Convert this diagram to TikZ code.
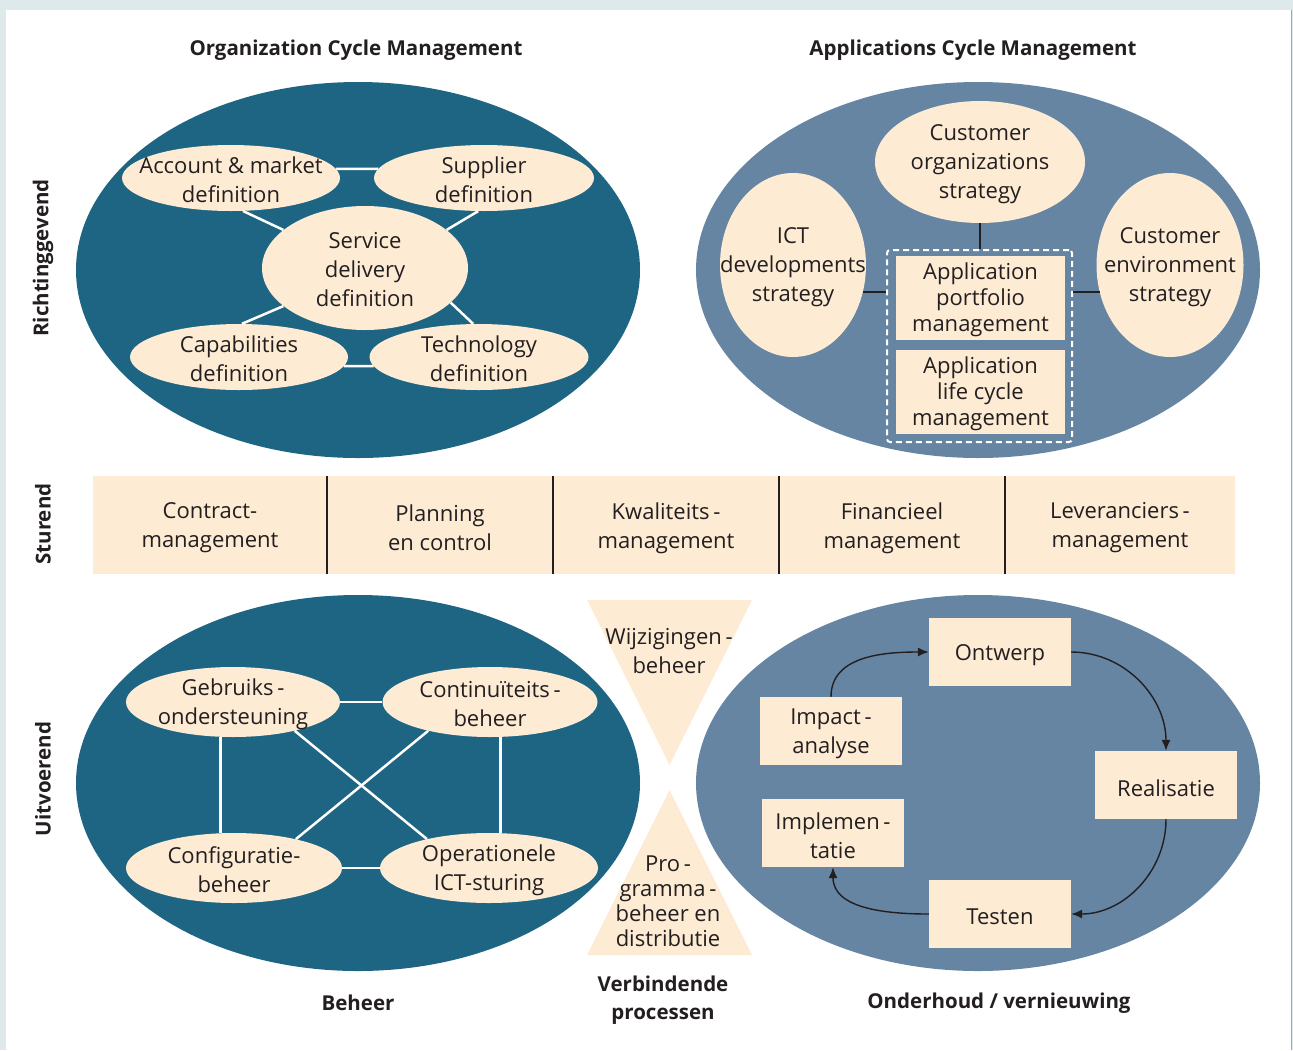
\documentclass[tikz,border=0pt]{standalone}
\usepackage{fontspec}
\setmainfont{Open Sans}
\usetikzlibrary{shapes.geometric,arrows.meta}

\definecolor{darkteal}{RGB}{30,101,132}
\definecolor{slateblue}{RGB}{101,133,163}
\definecolor{cream}{RGB}{253,235,212}
\definecolor{framegray}{RGB}{221,233,234}
\definecolor{inkblack}{RGB}{35,31,32}

\newcommand\txtfont{\fontsize{22}{29}\selectfont}
\newcommand\tightfont{\fontsize{22}{26}\selectfont}
\newcommand\hdfont{\fontsize{20.5}{28}\selectfont\bfseries}

\tikzset{
  bigoval/.style={ellipse, inner sep=0pt, minimum width=564, minimum height=376},
  oval/.style={ellipse, fill=cream, inner sep=0pt},
  ovaltext/.style={label={[txt,yshift=-2pt]center:#1}},
  boxtext/.style={label={[txt,yshift=-3pt]center:#1}},
  tightboxtext/.style={label={[txt,font=\tightfont,yshift=-2pt]center:#1}},
  txt/.style={inner sep=0pt, align=center, text=inkblack, font=\txtfont},
  box/.style={rectangle, fill=cream, inner sep=0pt},
  heading/.style={inner sep=0pt, align=center, text=inkblack, font=\hdfont},
  link/.style={white, line width=2.5pt},
  divider/.style={inkblack, line width=2.5pt},
  flow/.style={inkblack, line width=1.4pt, -{Latex[length=11pt,width=9pt]}},
}

\begin{document}
\begin{tikzpicture}[x=1pt,y=1pt,yscale=-1,xscale=1]
% frame
\fill[framegray] (0,0) rectangle (1293,1050);
\fill[white] (6,10) rectangle (1291,1050);
\draw[gray!70, line width=1pt] (1291.5,10) -- (1291.5,1050);

% row labels
\node[heading, rotate=90] (directing) at (43,258) {Richtinggevend};
\node[heading, rotate=90] (steering) at (43,524) {Sturend};
\node[heading, rotate=90] (executing) at (43,779) {Uitvoerend};

%% Organization Cycle Management
\node[heading] (orgtitle) at (356,50) {Organization Cycle Management};
\node[bigoval, fill=darkteal] (orgcycle) at (358,270) {};
\node[oval, minimum width=218, minimum height=66, ovaltext={Account \& market\\definition}] (account) at (231,178) {};
\node[oval, minimum width=220, minimum height=66, ovaltext={Supplier\\definition}] (supplier) at (484,178) {};
\node[oval, minimum width=206, minimum height=124, ovaltext={Service\\delivery\\definition}] (service) at (365,268) {};
\node[oval, minimum width=218, minimum height=66, ovaltext={Capabilities\\definition}] (capability) at (239,357) {};
\node[oval, minimum width=219, minimum height=66, ovaltext={Technology\\definition}] (technology) at (479,357) {};
% white links
\draw[link] (account.5) -- (supplier.175);
\draw[link] (capability.-5) -- (technology.185);
\draw[link] (account.-70) -- (service.155);
\draw[link] (supplier.-100) -- (service.25);
\draw[link] (capability.85) -- (service.-155);
\draw[link] (technology.100) -- (service.-22);

%% Applications Cycle Management
\node[heading] (apptitle) at (973,50) {Applications Cycle Management};
\node[bigoval, fill=slateblue] (appcycle) at (978,270) {};
\node[oval, minimum width=210, minimum height=122, ovaltext={Customer\\organizations\\strategy}] (custorg) at (980,162) {};
\node[oval, minimum width=146, minimum height=184, ovaltext={ICT\\developments\\strategy}] (ictdev) at (793,265) {};
\node[oval, minimum width=147, minimum height=184, ovaltext={Customer\\environment\\strategy}] (custenv) at (1170,265) {};
\node[draw=white, line width=2pt, dash pattern=on 6pt off 4pt, rounded corners=3pt,
  minimum width=185, minimum height=192, inner sep=0pt] (appgroup) at (979.5,346) {};
\node[box, minimum width=169, minimum height=84, tightboxtext={Application\\portfolio\\management}] (portfolio) at (980.5,298) {};
\node[box, minimum width=169, minimum height=84, tightboxtext={Application\\life cycle\\management}] (lifecycle) at (980.5,392) {};
% black links
\draw[divider] (custorg.south) -- (appgroup.north -| custorg.south);
\draw[divider] (ictdev.-21) -- (ictdev.-21 -| appgroup.west);
\draw[divider] (custenv.201) -- (custenv.201 -| appgroup.east);

%% Sturend band
\node[box, minimum width=234, minimum height=98, boxtext={Contract-\\management}] (contract) at (210,525) {};
\node[box, minimum width=226, minimum height=98, boxtext={Planning\\en control}] (planning) at (440,525) {};
\node[box, minimum width=226, minimum height=98, boxtext={Kwaliteits\,-\\management}] (quality) at (666,525) {};
\node[box, minimum width=226, minimum height=98, boxtext={Financieel\\management}] (finance) at (892,525) {};
\node[box, minimum width=230, minimum height=98, boxtext={Leveranciers\,-\\management}] (suppliers) at (1120,525) {};
\foreach \c in {contract,planning,quality,finance}
  \draw[divider] (\c.north east) -- (\c.south east);

%% Beheer
\node[bigoval, fill=darkteal] (opscycle) at (358,783) {};
\node[oval, minimum width=214, minimum height=70, ovaltext={Gebruiks\,-\\ondersteuning}] (usersupport) at (233,702) {};
\node[oval, minimum width=215, minimum height=70, ovaltext={Continuïteits\,-\\beheer}] (continuity) at (490,702) {};
\node[oval, minimum width=216, minimum height=70, ovaltext={Configuratie-\\beheer}] (configuration) at (234,868) {};
\node[oval, minimum width=218, minimum height=70, ovaltext={Operationele\\ICT-sturing}] (operations) at (489,868) {};
\draw[link] (usersupport) -- (continuity);
\draw[link] (configuration) -- (operations);
\draw[link] (usersupport.-110) -- (usersupport.-110 |- configuration.north);
\draw[link] (continuity.-73) -- (continuity.-73 |- operations.north);
\draw[link] (usersupport.-25) -- (operations.155);
\draw[link] (continuity.-155) -- (configuration.25);
\node[heading] (opstitle) at (358,1003) {Beheer};

%% Verbindende processen
\fill[cream] (587,600) -- (752,600) -- (669.5,765) -- cycle;
\fill[cream] (669.5,790) -- (752,955) -- (587,955) -- cycle;
\node[txt] (changes) at (669,651) {Wijzigingen\,-\\beheer};
\node[txt, font=\fontsize{22}{25}\selectfont] (distribution) at (668,901) {Pro\,-\\gramma\,-\\beheer en\\distributie};
\node[heading] (linktitle) at (663,1000) {Verbindende\\processen};

%% Onderhoud / vernieuwing
\node[bigoval, fill=slateblue] (devcycle) at (978,783) {};
\node[box, minimum width=142, minimum height=68, boxtext={Ontwerp}] (design) at (1000,652) {};
\node[box, minimum width=142, minimum height=68, boxtext={Impact\,-\\analyse}] (impact) at (831,731) {};
\node[box, minimum width=142, minimum height=68, boxtext={Realisatie}] (build) at (1166,785) {};
\node[box, minimum width=142, minimum height=68, boxtext={Implemen\,-\\tatie}] (rollout) at (833,833) {};
\node[box, minimum width=142, minimum height=68, boxtext={Testen}] (testing) at (1000,914) {};
\draw[flow] (impact.north) to[out=-90,in=180] (design.west);
\draw[flow] (design.east) to[out=0,in=-90] (build.north);
\draw[flow] (build.south) to[out=90,in=0] (testing.east);
\draw[flow] (testing.west) to[out=180,in=90] (rollout.south);
\node[heading] (devtitle) at (999,1003) {Onderhoud / vernieuwing};

\end{tikzpicture}
\end{document}
